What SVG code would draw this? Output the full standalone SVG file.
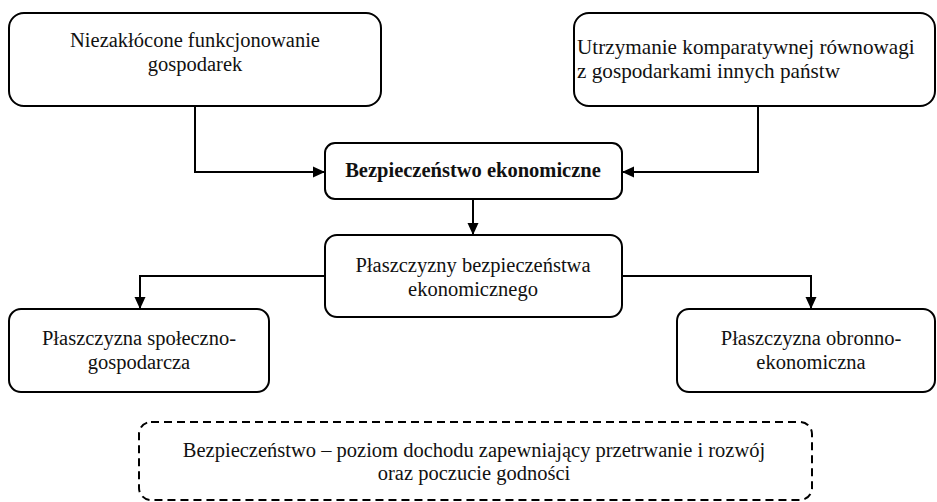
<svg xmlns="http://www.w3.org/2000/svg" width="937" height="502" viewBox="0 0 937 502">
<style>
.box{fill:#fff;stroke:#000;stroke-width:2}
.dash{fill:none;stroke:#000;stroke-width:2;stroke-dasharray:8 5}
.t{font-size:20.5px;fill:#111}
.w{font-size:21.2px}
.b{font-weight:bold}
.c{text-anchor:middle}
.conn{fill:none;stroke:#000;stroke-width:2}
</style>
<defs>
<marker id="ah" markerWidth="12" markerHeight="12" refX="12" refY="6" orient="auto" markerUnits="userSpaceOnUse">
<path d="M0,0.5 L12,6 L0,11.5 Z" fill="#000"/>
</marker>
</defs>
<g id="connectors">
<path class="conn" d="M195,106 V172 H325" marker-end="url(#ah)"/>
<path class="conn" d="M758,106 V172 H622" marker-end="url(#ah)"/>
<path class="conn" d="M473,199 V235" marker-end="url(#ah)"/>
<path class="conn" d="M325,276 H140 V309" marker-end="url(#ah)"/>
<path class="conn" d="M622,276 H811 V309" marker-end="url(#ah)"/>
</g>
<g font-family="'Liberation Serif', 'Times New Roman', 'DejaVu Serif', serif">
<g id="n1">
<rect class="box" x="9" y="13" width="372" height="93" rx="15"/>
<text class="t c" x="195" y="47">Niezakłócone funkcjonowanie</text>
<text class="t c" x="195" y="71">gospodarek</text>
</g>
<g id="n2">
<rect class="box" x="574" y="13" width="361" height="93" rx="15"/>
<text class="t w" x="577" y="54">Utrzymanie komparatywnej równowagi</text>
<text class="t w" x="577" y="78">z gospodarkami innych państw</text>
</g>
<g id="n3">
<rect class="box" x="325" y="143" width="297" height="56" rx="10"/>
<text class="t b c" x="473" y="177">Bezpieczeństwo ekonomiczne</text>
</g>
<g id="n4">
<rect class="box" x="325" y="235" width="297" height="82" rx="12"/>
<text class="t c" x="473" y="272">Płaszczyzny bezpieczeństwa</text>
<text class="t c" x="473" y="296">ekonomicznego</text>
</g>
<g id="n5">
<rect class="box" x="9" y="309" width="260" height="83" rx="12"/>
<text class="t c" x="139" y="345">Płaszczyzna społeczno-</text>
<text class="t c" x="139" y="369">gospodarcza</text>
</g>
<g id="n6">
<rect class="box" x="677" y="309" width="258" height="83" rx="12"/>
<text class="t c" x="811" y="345">Płaszczyzna obronno-</text>
<text class="t c" x="811" y="369">ekonomiczna</text>
</g>
<g id="n7">
<rect class="dash" x="139" y="422" width="673" height="78" rx="12"/>
<text class="t c" x="474" y="457">Bezpieczeństwo – poziom dochodu zapewniający przetrwanie i rozwój</text>
<text class="t c" x="474" y="480">oraz poczucie godności</text>
</g>
</g>
</svg>
